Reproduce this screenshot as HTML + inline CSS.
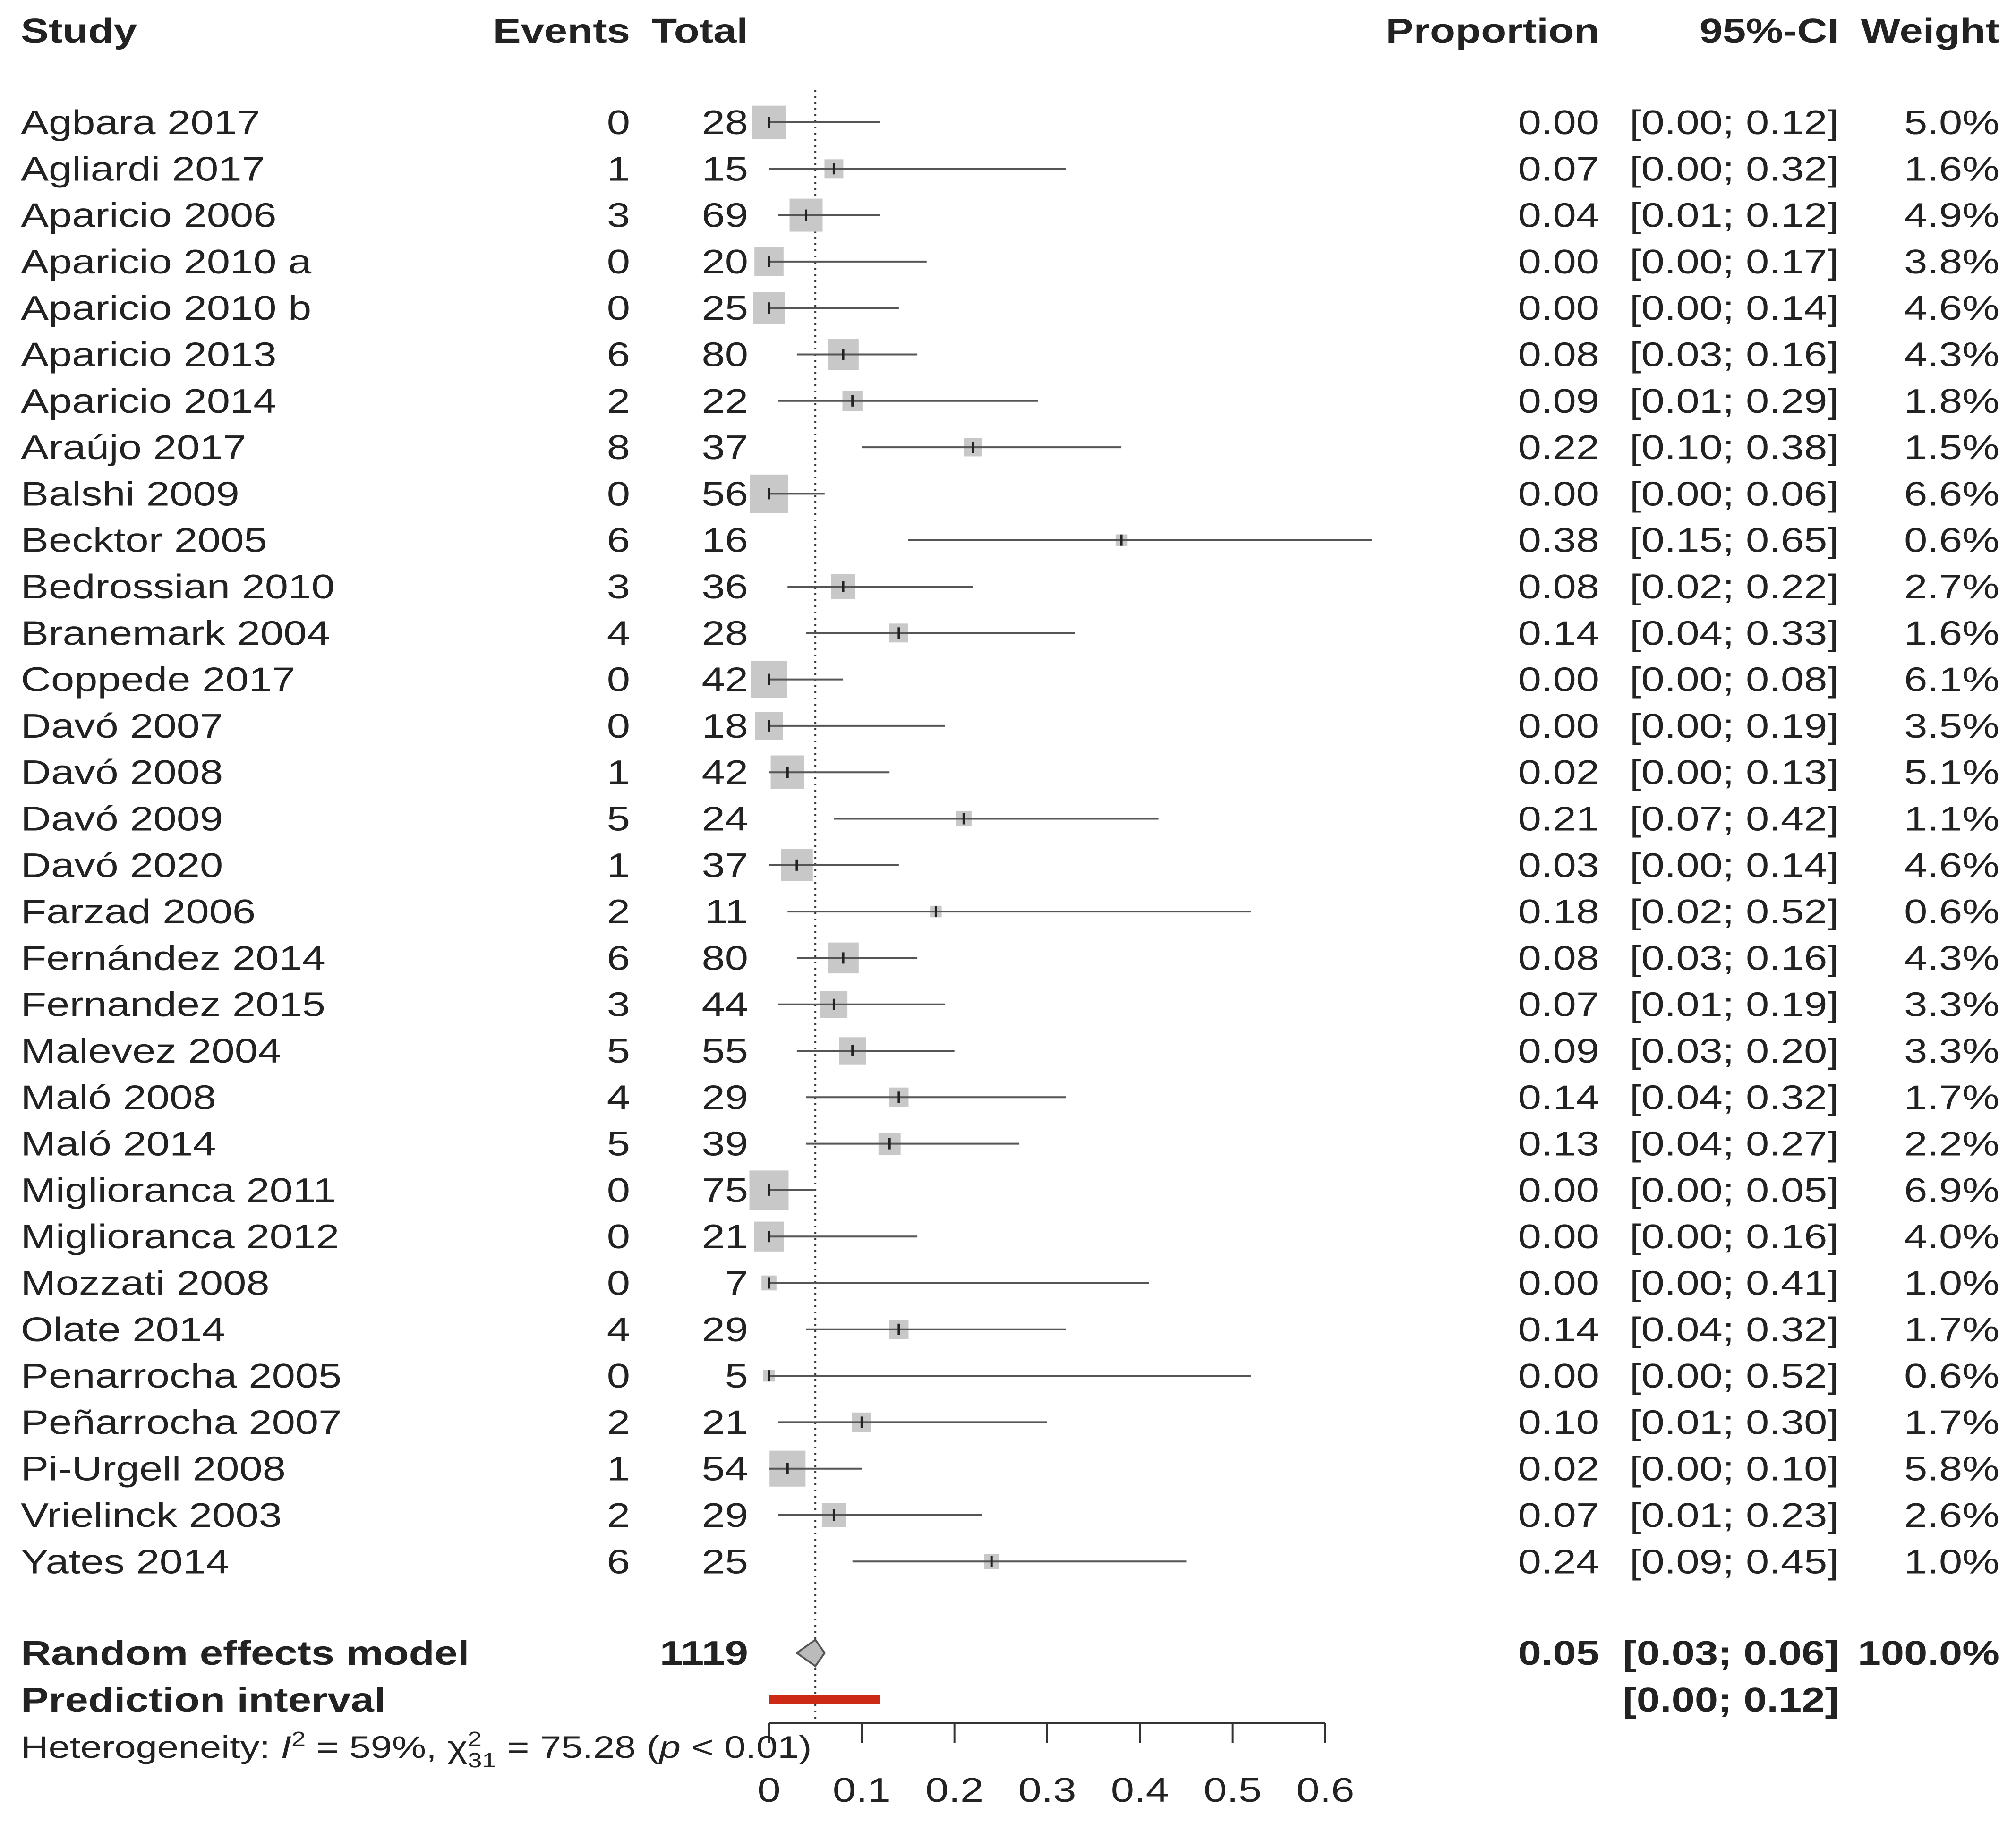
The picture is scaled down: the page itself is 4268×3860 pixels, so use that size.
<!DOCTYPE html>
<html><head><meta charset="utf-8"><style>
html,body{margin:0;padding:0;background:#fff}
svg{display:block}
text{font-family:"Liberation Sans",sans-serif;font-size:72px;fill:#222}
.b{font-weight:bold}
</style></head><body>
<svg id="s" width="4268" height="3860" viewBox="0 0 4268 3860" xmlns="http://www.w3.org/2000/svg"></svg>
<script>
const studies=["Agbara 2017","Agliardi 2017","Aparicio 2006","Aparicio 2010 a","Aparicio 2010 b","Aparicio 2013","Aparicio 2014","Araújo 2017","Balshi 2009","Becktor 2005","Bedrossian 2010","Branemark 2004","Coppede 2017","Davó 2007","Davó 2008","Davó 2009","Davó 2020","Farzad 2006","Fernández 2014","Fernandez 2015","Malevez 2004","Maló 2008","Maló 2014","Miglioranca 2011","Miglioranca 2012","Mozzati 2008","Olate 2014","Penarrocha 2005","Peñarrocha 2007","Pi-Urgell 2008","Vrielinck 2003","Yates 2014"];
const events=[0,1,3,0,0,6,2,8,0,6,3,4,0,0,1,5,1,2,6,3,5,4,5,0,0,0,4,0,2,1,2,6];
const totals=[28,15,69,20,25,80,22,37,56,16,36,28,42,18,42,24,37,11,80,44,55,29,39,75,21,7,29,5,21,54,29,25];
const props=[0.00,0.07,0.04,0.00,0.00,0.08,0.09,0.22,0.00,0.38,0.08,0.14,0.00,0.00,0.02,0.21,0.03,0.18,0.08,0.07,0.09,0.14,0.13,0.00,0.00,0.00,0.14,0.00,0.10,0.02,0.07,0.24];
const lowers=[0.00,0.00,0.01,0.00,0.00,0.03,0.01,0.10,0.00,0.15,0.02,0.04,0.00,0.00,0.00,0.07,0.00,0.02,0.03,0.01,0.03,0.04,0.04,0.00,0.00,0.00,0.04,0.00,0.01,0.00,0.01,0.09];
const uppers=[0.12,0.32,0.12,0.17,0.14,0.16,0.29,0.38,0.06,0.65,0.22,0.33,0.08,0.19,0.13,0.42,0.14,0.52,0.16,0.19,0.20,0.32,0.27,0.05,0.16,0.41,0.32,0.52,0.30,0.10,0.23,0.45];
const weights=[5.0,1.6,4.9,3.8,4.6,4.3,1.8,1.5,6.6,0.6,2.7,1.6,6.1,3.5,5.1,1.1,4.6,0.6,4.3,3.3,3.3,1.7,2.2,6.9,4.0,1.0,1.7,0.6,1.7,5.8,2.6,1.0];
const pooled=[0.05,0.03,0.06], predInt=[0.00,0.12];
const ticks=[0,0.1,0.2,0.3,0.4,0.5,0.6];
const tickLabels=["0","0.1","0.2","0.3","0.4","0.5","0.6"];

const s=document.getElementById('s'),NS="http://www.w3.org/2000/svg";
const SX=1.23;
const X=v=>1628+v*(2806-1628)/0.6;
const Y=i=>259+i*98.3;
function el(t,a,p){const e=document.createElementNS(NS,t);for(const k in a)e.setAttribute(k,a[k]);(p||s).appendChild(e);return e;}
function txt(x,y,str,anchor,cls,name){const e=el('text',{x:0,y:0,transform:`translate(${x},${y}) scale(${SX},1)`,'text-anchor':anchor||'start','class':cls||''});e.textContent=str;


return e;}
const H=[[44,"Study","start"],[1334,"Events","end"],[1584,"Total","end"],[3386,"Proportion","end"],[3893,"95%-CI","end"],[4233,"Weight","end"]];
H.forEach(h=>txt(h[0],90,h[1],h[2],'b','header-'+h[1].toLowerCase().replace(/[^a-z0-9]+/g,'-')));
const ref=el('line',{x1:X(pooled[0]),x2:X(pooled[0]),y1:190,y2:3648,stroke:'#333','stroke-width':4,'stroke-dasharray':'4 9'});


const f=v=>v.toFixed(2);
studies.forEach((n,i)=>{
  const y=Y(i),ty=y+25;
  const g=el('g',{});
  
  
  const sd=31.6*Math.sqrt(weights[i]);
  const r=el('rect',{x:X(props[i])-sd/2,y:y-sd/2,width:sd,height:sd,fill:'#c8c8c8'},g);
  
  
  const l=el('line',{x1:X(lowers[i]),x2:X(uppers[i]),y1:y,y2:y,stroke:'#555','stroke-width':4},g);
  
  
  const m=el('line',{x1:X(props[i]),x2:X(props[i]),y1:y-12,y2:y+12,stroke:'#222','stroke-width':5},g);
  
  
  txt(44,ty,n,'start','','study-name');
  txt(1334,ty,String(events[i]),'end','','events');
  txt(1584,ty,String(totals[i]),'end','','total');
  txt(3386,ty,f(props[i]),'end','','proportion');
  txt(3893,ty,'['+f(lowers[i])+'; '+f(uppers[i])+']','end','','ci');
  txt(4233,ty,weights[i].toFixed(1)+'%','end','','weight');
});
const yr=3500;
const d=el('polygon',{points:`${X(pooled[1])},${yr} ${X(pooled[0])},${yr-28} ${X(pooled[2])},${yr} ${X(pooled[0])},${yr+28}`,fill:'#bbb',stroke:'#555','stroke-width':4});


txt(44,yr+25,'Random effects model','start','b','random-effects-label');
txt(1584,yr+25,String(totals.reduce((a,b)=>a+b,0)),'end','b','pooled-total');
txt(3386,yr+25,f(pooled[0]),'end','b','pooled-proportion');
txt(3893,yr+25,'['+f(pooled[1])+'; '+f(pooled[2])+']','end','b','pooled-ci');
txt(4233,yr+25,'100.0%','end','b','pooled-weight');
const yp=3599;
const p=el('rect',{x:X(predInt[0]),y:yp-10,width:X(predInt[1])-X(predInt[0]),height:20,fill:'#cc2a14'});


txt(44,yp+25,'Prediction interval','start','b','prediction-interval-label');
txt(3893,yp+25,'['+f(predInt[0])+'; '+f(predInt[1])+']','end','b','prediction-ci');
const ax=el('line',{x1:X(0),x2:X(0.6),y1:3648,y2:3648,stroke:'#333','stroke-width':4});


ticks.forEach((t,i)=>{
  const k=el('line',{x1:X(t),x2:X(t),y1:3648,y2:3690,stroke:'#333','stroke-width':4});
  
  
  txt(X(t),3815,tickLabels[i],'middle','','x-tick-label');
});
const h=el('text',{x:0,y:0,transform:`translate(44,3722) scale(${SX},1)`,style:'font-size:66px'});


h.innerHTML='Heterogeneity: <tspan font-style="italic">I</tspan><tspan dy="-25" style="font-size:44px">2</tspan><tspan dy="25"> = 59%, χ</tspan><tspan dy="-25" style="font-size:44px">2</tspan><tspan dx="-24" dy="45" style="font-size:44px">31</tspan><tspan dy="-20"> = 75.28 (</tspan><tspan font-style="italic">p</tspan><tspan> &lt; 0.01)</tspan>';
</script>
</body></html>
